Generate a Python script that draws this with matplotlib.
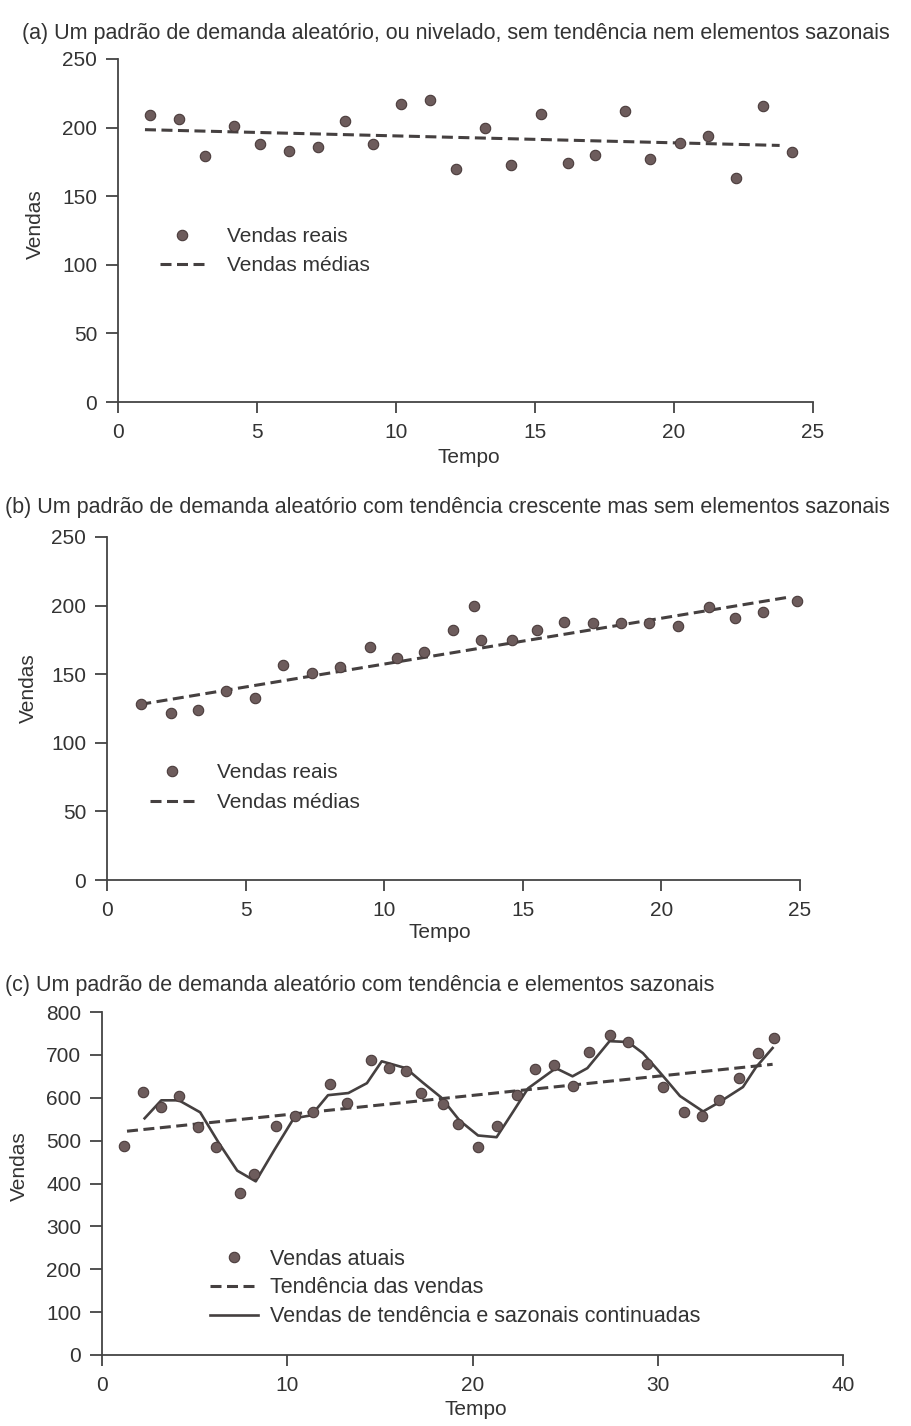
import numpy as np
import matplotlib.pyplot as plt

plt.rcParams['font.family'] = ['Liberation Sans', 'DejaVu Sans']
plt.rcParams['text.color'] = '#333333'
plt.rcParams['axes.labelcolor'] = '#333333'
plt.rcParams['xtick.color'] = '#333333'
plt.rcParams['ytick.color'] = '#333333'

# (a) random / level demand
tempo_a = [1.15, 2.19, 3.13, 4.17, 5.11, 6.15, 7.19, 8.17, 9.17, 10.18, 11.22, 12.16,
           13.2, 14.14, 15.22, 16.19, 17.16, 18.24, 19.14, 20.22, 21.22, 22.23, 23.2, 24.24]
vendas_a = [209, 206, 179, 201, 188, 183, 186, 205, 188, 217, 220, 170,
            200, 173, 210, 174, 180, 212, 177, 189, 194, 163, 216, 182]
media_a_t = [0.97, 23.8]
media_a_v = [198.5, 187]

# (b) increasing trend
tempo_b = [1.22, 2.3, 3.3, 4.3, 5.35, 6.35, 7.4, 8.4, 9.5, 10.45, 11.45, 12.5, 13.25,
           13.5, 14.6, 15.5, 16.5, 17.55, 18.55, 19.56, 20.6, 21.7, 22.65, 23.65, 24.9]
vendas_b = [128, 122, 124, 138, 133, 157, 151, 155, 170, 162, 166, 182, 200,
            175, 175, 182, 188, 187, 187, 187, 185, 199, 191, 195, 203]
media_b_t = [1.2, 24.55]
media_b_v = [128, 206]

# (c) trend + seasonal
tempo_c = [1.19, 2.2, 3.2, 4.15, 5.2, 6.15, 7.44, 8.2, 9.4, 10.4, 11.4, 12.3,
           13.2, 14.5, 15.5, 16.4, 17.2, 18.4, 19.2, 20.3, 21.3, 22.4, 23.4, 24.4,
           25.4, 26.3, 27.4, 28.4, 29.4, 30.3, 31.4, 32.4, 33.3, 34.4, 35.4, 36.3]
vendas_c = [487, 613, 578, 604, 531, 484, 379, 423, 533, 557, 566, 632,
            587, 688, 669, 662, 611, 585, 538, 484, 533, 606, 667, 676,
            627, 706, 746, 730, 678, 625, 566, 557, 594, 646, 704, 739]
tend_c_t = [1.35, 36.2]
tend_c_v = [522, 678]
sazon_t = [2.3, 3.2, 4.15, 5.3, 6.3, 7.3, 8.3, 9.3, 10.35, 11.3, 12.2, 13.3, 14.3,
           15.1, 16.4, 17.3, 18.3, 19.3, 20.3, 21.3, 22.2, 23.0, 24.5, 25.4, 26.2,
           27.4, 28.4, 29.2, 30.1, 31.2, 32.45, 33.3, 34.6, 35.3, 36.2]
sazon_v = [552, 594, 594, 566, 495, 430, 405, 478, 552, 559, 606, 611, 634,
           685, 669, 636, 601, 547, 512, 508, 568, 622, 669, 650, 669,
           732, 730, 704, 660, 604, 568, 589, 625, 671, 716]

titulos = ['(a) Um padrão de demanda aleatório, ou nivelado, sem tendência nem elementos sazonais',
           '(b) Um padrão de demanda aleatório com tendência crescente mas sem elementos sazonais',
           '(c) Um padrão de demanda aleatório com tendência e elementos sazonais']

W, H = 912, 1426
fs = 15
fs_tit = 15.5
dot_face = '#6d5c5c'
dot_edge = '#4a3c3c'
line_col = '#454040'
dash = (0, (3.6, 1.8))

fig = plt.figure(figsize=(W/100, H/100), dpi=100)

def px_axes(x0, y0, w, h):
    # x0, y0 = left/bottom of the axes in pixels from top-left corner
    return fig.add_axes([x0/W, 1 - y0/H, w/W, h/H])

def style(ax, xmax, xstep, ymax, ystep):
    ax.set_xlim(0, xmax)
    ax.set_ylim(0, ymax)
    ax.set_xticks(np.arange(0, xmax + 1, xstep))
    ax.set_yticks(np.arange(0, ymax + 1, ystep))
    for s in ['top', 'right']:
        ax.spines[s].set_visible(False)
    for s in ['left', 'bottom']:
        ax.spines[s].set_color('#444444')
        ax.spines[s].set_linewidth(1.3)
    ax.tick_params(axis='y', length=9, width=1.2, pad=6, labelsize=fs)
    ax.tick_params(axis='x', length=8, width=1.2, pad=7, labelsize=fs)
    ax.set_xlabel('Tempo', fontsize=fs)
    ax.set_ylabel('Vendas', fontsize=fs)

# ---- panel (a)
ax1 = px_axes(118, 402, 695, 343)
ax1.plot(tempo_a, vendas_a, 'o', ms=7.5, mfc=dot_face, mec=dot_edge, mew=0.8,
         label='Vendas reais', clip_on=False, zorder=3)
ax1.plot(media_a_t, media_a_v, color=line_col, lw=2.2, linestyle=dash, label='Vendas médias')
style(ax1, 25, 5, 250, 50)
ax1.xaxis.set_label_coords(0.505, -0.135)
ax1.yaxis.set_label_coords(-0.105, 0.52)
ax1.legend(loc='upper left', bbox_to_anchor=(0.06, 0.51), frameon=False, fontsize=fs,
           handlelength=2.16, handletextpad=1.05, labelspacing=0.5, borderpad=0, borderaxespad=0)
fig.text(22/W, 1 - 33/H, titulos[0], fontsize=fs_tit, va='center', ha='left')

# ---- panel (b)
ax2 = px_axes(107, 880, 693, 343)
ax2.plot(tempo_b, vendas_b, 'o', ms=7.5, mfc=dot_face, mec=dot_edge, mew=0.8,
         label='Vendas reais', clip_on=False, zorder=3)
ax2.plot(media_b_t, media_b_v, color=line_col, lw=2.2, linestyle=dash, label='Vendas médias')
style(ax2, 25, 5, 250, 50)
ax2.xaxis.set_label_coords(0.48, -0.125)
ax2.yaxis.set_label_coords(-0.1, 0.56)
ax2.legend(loc='upper left', bbox_to_anchor=(0.062, 0.34), frameon=False, fontsize=fs,
           handlelength=2.16, handletextpad=1.05, labelspacing=0.5, borderpad=0, borderaxespad=0)
fig.text(5/W, 1 - 508/H, titulos[1], fontsize=fs_tit, va='center', ha='left')

# ---- panel (c)
ax3 = px_axes(102, 1355, 741, 343)
ax3.plot(tempo_c, vendas_c, 'o', ms=7.5, mfc=dot_face, mec=dot_edge, mew=0.8,
         label='Vendas atuais', clip_on=False, zorder=3)
ax3.plot(tend_c_t, tend_c_v, color=line_col, lw=2.2, linestyle=dash, label='Tendência das vendas')
ax3.plot(sazon_t, sazon_v, color=line_col, lw=1.9, label='Vendas de tendência e sazonais continuadas')
style(ax3, 40, 10, 800, 100)
ax3.xaxis.set_label_coords(0.505, -0.132)
ax3.yaxis.set_label_coords(-0.098, 0.55)
ax3.legend(loc='upper left', bbox_to_anchor=(0.146, 0.31), frameon=False, fontsize=fs_tit,
           handlelength=2.2, handletextpad=0.6, labelspacing=0.36, borderpad=0, borderaxespad=0)
fig.text(5/W, 1 - 985/H, titulos[2], fontsize=fs_tit, va='center', ha='left')

fig.savefig('out.png', dpi=100, facecolor='white')
